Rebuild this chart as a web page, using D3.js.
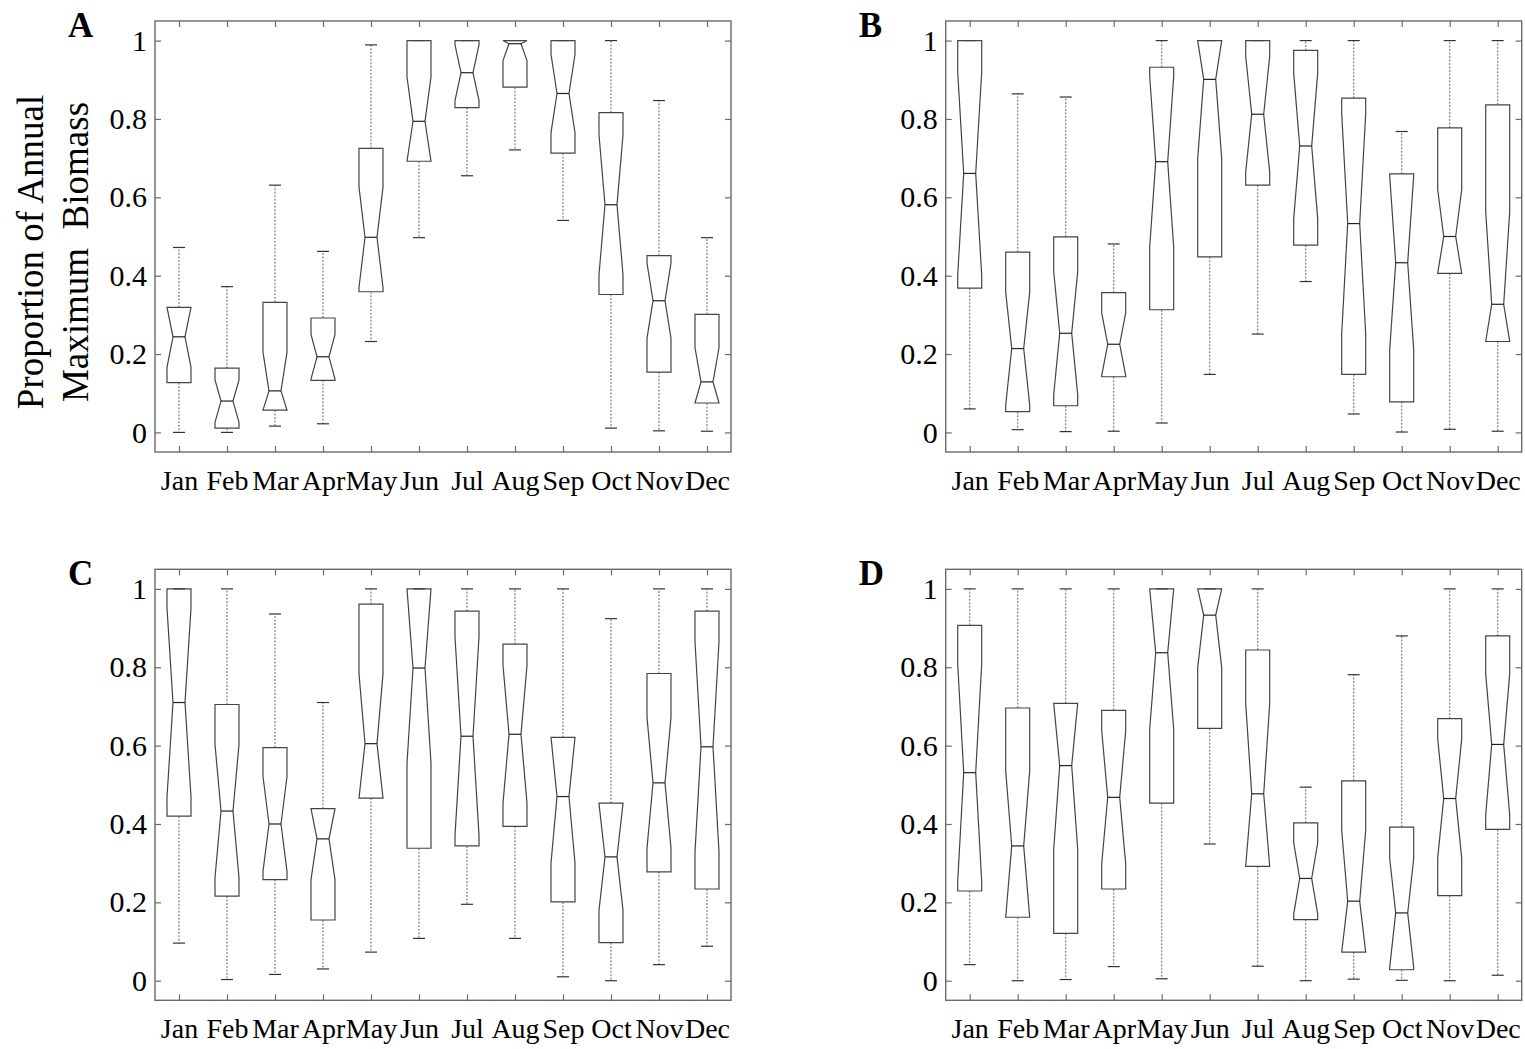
<!DOCTYPE html>
<html>
<head>
<meta charset="utf-8">
<script src="https://cdn.jsdelivr.net/npm/d3@7"></script>
<style>
  body { margin: 0; background: #fff; }
  svg { display: block; }
  text { font-family: "Liberation Serif", "Times New Roman", serif; }
</style>
</head>
<body>
<div id="chart"></div>
<script>
// data (A, B, C, D), one row per panel, Jan..Dec
var months = ["Jan", "Feb", "Mar", "Apr", "May", "Jun", "Jul", "Aug", "Sep", "Oct", "Nov", "Dec"];
var panelLabels = ["A", "B", "C", "D"];
var yTicks = [0, 0.2, 0.4, 0.6, 0.8, 1];

var whiskerHigh = [
  [0.472, 0.372, 0.631, 0.462, 0.989, 1.0, 1.0, 1.0, 1.0, 1.0, 0.847, 0.497],
  [1.0, 0.864, 0.856, 0.481, 1.0, 1.0, 1.0, 1.0, 1.0, 0.768, 1.0, 1.0],
  [1.0, 1.0, 0.936, 0.710, 1.0, 1.0, 1.0, 1.0, 1.0, 0.924, 1.0, 1.0],
  [1.0, 1.0, 1.0, 1.0, 1.0, 1.0, 1.0, 0.494, 0.781, 0.880, 1.0, 1.0]
];
var upperQuartile = [
  [0.319, 0.164, 0.332, 0.292, 0.725, 1.0, 1.0, 1.0, 1.0, 0.816, 0.451, 0.301],
  [1.0, 0.460, 0.499, 0.357, 0.932, 1.0, 1.0, 0.975, 0.853, 0.660, 0.777, 0.836],
  [1.0, 0.705, 0.595, 0.439, 0.961, 1.0, 0.943, 0.859, 0.621, 0.453, 0.784, 0.943],
  [0.907, 0.696, 0.708, 0.690, 1.0, 1.0, 0.844, 0.403, 0.510, 0.392, 0.669, 0.880]
];
var medians = [
  [0.244, 0.080, 0.106, 0.193, 0.498, 0.794, 0.918, 0.992, 0.865, 0.581, 0.336, 0.129],
  [0.661, 0.214, 0.253, 0.225, 0.691, 0.901, 0.812, 0.731, 0.533, 0.433, 0.500, 0.327],
  [0.710, 0.433, 0.400, 0.362, 0.605, 0.798, 0.624, 0.629, 0.470, 0.316, 0.505, 0.597],
  [0.531, 0.344, 0.549, 0.468, 0.837, 0.933, 0.477, 0.261, 0.203, 0.173, 0.465, 0.603]
];
var lowerQuartile = [
  [0.127, 0.011, 0.057, 0.133, 0.359, 0.692, 0.829, 0.881, 0.713, 0.352, 0.154, 0.075],
  [0.368, 0.053, 0.068, 0.142, 0.313, 0.448, 0.631, 0.478, 0.148, 0.078, 0.406, 0.232],
  [0.420, 0.216, 0.258, 0.155, 0.466, 0.338, 0.344, 0.394, 0.201, 0.097, 0.278, 0.234],
  [0.229, 0.162, 0.121, 0.234, 0.453, 0.644, 0.292, 0.156, 0.073, 0.028, 0.217, 0.386]
];
var whiskerLow = [
  [0.0, 0.0, 0.016, 0.022, 0.232, 0.497, 0.655, 0.721, 0.541, 0.011, 0.004, 0.003],
  [0.060, 0.007, 0.002, 0.003, 0.024, 0.148, 0.251, 0.385, 0.047, 0.001, 0.008, 0.003],
  [0.096, 0.003, 0.016, 0.030, 0.073, 0.108, 0.195, 0.108, 0.010, 0.0, 0.041, 0.088],
  [0.041, 0.0, 0.003, 0.036, 0.005, 0.349, 0.037, 0.0, 0.004, 0.001, 0.0, 0.014]
];
// half height of the notch around the median
var notchHalf = [
  [0.078, 0.054, 0.099, 0.057, 0.128, 0.113, 0.071, 0.043, 0.100, 0.178, 0.096, 0.087],
  [0.259, 0.144, 0.157, 0.080, 0.218, 0.202, 0.148, 0.186, 0.281, 0.222, 0.120, 0.236],
  [0.241, 0.170, 0.121, 0.104, 0.178, 0.243, 0.253, 0.176, 0.170, 0.136, 0.167, 0.268],
  [0.278, 0.192, 0.214, 0.170, 0.195, 0.134, 0.230, 0.091, 0.181, 0.139, 0.152, 0.180]
];

// layout
var width = 1525, height = 1049;
var pw = 576, ph = 431;
var panelPos = [[155, 21], [945.7, 21], [155, 569.3], [945.7, 569.3]];
var frameColor = "#6a6a6a";
var boxHalf = 12, notchW = 6, capHalf = 6;

var svg = d3.select("#chart").append("svg")
    .attr("width", width)
    .attr("height", height);

var x = d3.scaleLinear().domain([0.5, 12.5]).range([0, pw]);
var y = d3.scaleLinear().domain([-0.05, 1.05]).range([ph, 0]);
var yFmt = d3.format("~g");

function styleAxis(sel, size) {
  sel.select(".domain").remove();
  sel.selectAll(".tick line").attr("stroke", frameColor).attr("stroke-width", 1.2);
  sel.attr("font-family", "Liberation Serif, Times New Roman, serif")
     .attr("font-size", size);
  sel.selectAll(".tick text").attr("fill", "#000");
}

panelLabels.forEach(function(lab, p) {
  var g = svg.append("g")
      .attr("transform", "translate(" + panelPos[p][0] + "," + panelPos[p][1] + ")");

  var rows = months.map(function(m, i) {
    return {
      m: i + 1,
      hi: whiskerHigh[p][i],
      q3: upperQuartile[p][i],
      med: medians[p][i],
      q1: lowerQuartile[p][i],
      lo: whiskerLow[p][i],
      notch: notchHalf[p][i]
    };
  });

  // axes, ticks pointing inward on all four sides
  g.append("g")
      .attr("transform", "translate(0," + ph + ")")
      .call(d3.axisBottom(x).tickValues(d3.range(1, 13))
        .tickFormat(function(d, i) { return months[i]; })
        .tickSize(-6).tickPadding(18))
      .call(styleAxis, 28);

  g.append("g")
      .call(d3.axisTop(x).tickValues(d3.range(1, 13)).tickFormat("").tickSize(-6))
      .call(styleAxis, 28);

  g.append("g")
      .call(d3.axisLeft(y).tickValues(yTicks).tickFormat(yFmt).tickSize(-6).tickPadding(8))
      .call(styleAxis, 30);

  g.append("g")
      .attr("transform", "translate(" + pw + ",0)")
      .call(d3.axisRight(y).tickValues(yTicks).tickFormat("").tickSize(-6))
      .call(styleAxis, 30);

  g.append("rect")
      .attr("width", pw)
      .attr("height", ph)
      .attr("fill", "none")
      .attr("stroke", frameColor)
      .attr("stroke-width", 1.4);

  var box = g.selectAll(".box")
      .data(rows)
      .enter().append("g")
      .attr("class", "box");

  // whiskers
  box.append("line")
      .attr("x1", function(d) { return x(d.m); })
      .attr("x2", function(d) { return x(d.m); })
      .attr("y1", function(d) { return y(d.q3); })
      .attr("y2", function(d) { return y(d.hi); })
      .attr("stroke", "#808080")
      .attr("stroke-width", 1.2)
      .attr("stroke-dasharray", "2,1.5");

  box.append("line")
      .attr("x1", function(d) { return x(d.m); })
      .attr("x2", function(d) { return x(d.m); })
      .attr("y1", function(d) { return y(d.q1); })
      .attr("y2", function(d) { return y(d.lo); })
      .attr("stroke", "#808080")
      .attr("stroke-width", 1.2)
      .attr("stroke-dasharray", "2,1.5");

  ["hi", "lo"].forEach(function(k) {
    box.append("line")
        .attr("x1", function(d) { return x(d.m) - capHalf; })
        .attr("x2", function(d) { return x(d.m) + capHalf; })
        .attr("y1", function(d) { return y(d[k]); })
        .attr("y2", function(d) { return y(d[k]); })
        .attr("stroke", "#333")
        .attr("stroke-width", 1.2);
  });

  // notched box
  box.append("path")
      .attr("d", function(d) {
        var c = x(d.m);
        var l = c - boxHalf, r = c + boxHalf;
        var nhi = Math.min(d.med + d.notch, d.q3);
        var nlo = Math.max(d.med - d.notch, d.q1);
        return "M" + l + "," + y(d.q1) +
               "L" + l + "," + y(nlo) +
               "L" + (c - notchW) + "," + y(d.med) +
               "L" + l + "," + y(nhi) +
               "L" + l + "," + y(d.q3) +
               "L" + r + "," + y(d.q3) +
               "L" + r + "," + y(nhi) +
               "L" + (c + notchW) + "," + y(d.med) +
               "L" + r + "," + y(nlo) +
               "L" + r + "," + y(d.q1) + "Z";
      })
      .attr("fill", "none")
      .attr("stroke", "#444")
      .attr("stroke-width", 1.2);

  box.append("line")
      .attr("x1", function(d) { return x(d.m) - notchW; })
      .attr("x2", function(d) { return x(d.m) + notchW; })
      .attr("y1", function(d) { return y(d.med); })
      .attr("y2", function(d) { return y(d.med); })
      .attr("stroke", "#222")
      .attr("stroke-width", 1.2);

  // panel letter
  g.append("text")
      .attr("x", -87)
      .attr("y", 16)
      .attr("font-size", 35)
      .attr("font-weight", "bold")
      .text(lab);

  if (p === 0) {
    g.append("text")
        .attr("font-size", 37)
        .attr("text-anchor", "middle")
        .style("white-space", "pre")
        .attr("transform", "translate(-112,231) rotate(-90)")
        .text("Proportion of Annual");
    g.append("text")
        .attr("font-size", 37)
        .attr("text-anchor", "middle")
        .style("white-space", "pre")
        .attr("transform", "translate(-67,231) rotate(-90)")
        .text("Maximum  Biomass");
  }
});
</script>
</body>
</html>
